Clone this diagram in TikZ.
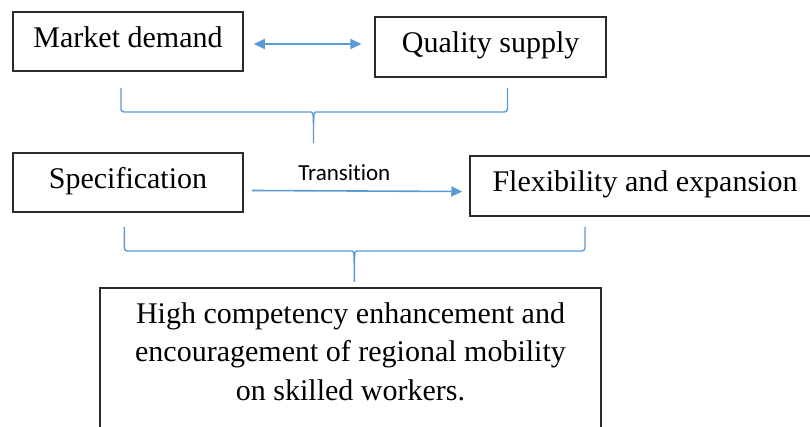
\documentclass[tikz,border=0pt]{standalone}
\usepackage{fontspec}
\setmainfont{Liberation Serif}
\newfontfamily\labelfont[Ligatures=NoCommon]{Carlito}
\usepackage{tikz}
\usetikzlibrary{arrows.meta,calc}
\definecolor{lblue}{HTML}{5B9BD5}
\definecolor{bframe}{HTML}{2B2B2B}

\tikzset{
  box/.style={draw=bframe,line width=1.5pt,align=center,inner sep=0pt,
              font=\fontsize{30}{38.5}\selectfont,
              text height=21pt,text depth=9pt},
  link/.style={draw=lblue,line width=1.6pt},
  tip/.style={-{Triangle[length=11pt,width=10pt]}},
  brace/.style={draw=lblue,line width=1.4pt},
}

\begin{document}
\begin{tikzpicture}[x=1pt,y=-1pt]
      \useasboundingbox (0,0) rectangle (810,427);

      % first row
      \node[box,minimum width=230pt,minimum height=59pt] (md) at (128,41.5) {Market demand};
      \node[box,minimum width=231pt,minimum height=60pt] (qs) at (490.7,47) {Quality supply};

      \draw[link,{Triangle[length=11pt,width=10pt]}-{Triangle[length=11pt,width=10pt]}]
        ($(md.east)+(10,2.5)$) -- ($(qs.west|-md.east)+(-13,2.5)$);

      % first bracket
      \coordinate (b1l) at (121,88);
      \coordinate (b1r) at (507.5,88);
      \coordinate (b1m) at (313.5,112);
      \coordinate (b1t) at (313.5,143);
      \draw[brace] (b1l) [rounded corners=3pt] |- ($(b1m)+(-5,0)$) [sharp corners]
        .. controls ($(b1m)+(-0.5,0)$) .. ($(b1m)+(0,12)$) -- (b1t);
      \draw[brace] (b1r) [rounded corners=3pt] |- ($(b1m)+(5,0)$) [sharp corners]
        .. controls ($(b1m)+(0.5,0)$) .. ($(b1m)+(0,12)$);

      % second row
      \node[box,minimum width=230pt,minimum height=59pt] (sp) at (128,182.5) {Specification};
      \node[box,minimum width=350pt,minimum height=60pt] (fe) at (645,186) {Flexibility and expansion};

      \draw[link,tip] ($(sp.east)+(8,8)$) -- ($(fe.west)+(-7,5.5)$)
        node[pos=0.44,above=6pt,font=\labelfont\fontsize{23}{26}\selectfont,text=black] (tr) {Transition};

      % second bracket
      \coordinate (b2l) at (124.3,227);
      \coordinate (b2r) at (585,227);
      \coordinate (b2m) at (354.3,251);
      \coordinate (b2t) at (354.3,282);
      \draw[brace] (b2l) [rounded corners=3pt] |- ($(b2m)+(-5,0)$) [sharp corners]
        .. controls ($(b2m)+(-0.5,0)$) .. ($(b2m)+(0,12)$) -- (b2t);
      \draw[brace] (b2r) [rounded corners=3pt] |- ($(b2m)+(5,0)$) [sharp corners]
        .. controls ($(b2m)+(0.5,0)$) .. ($(b2m)+(0,12)$);

      % result box
      \node[draw=bframe,line width=1.5pt,minimum width=501pt,minimum height=170pt,
            anchor=north,inner sep=0pt] (hb) at (350.5,287) {};
      \node[align=center,anchor=north,font=\fontsize{30}{38.5}\selectfont] (hbtext)
        at ($(hb.north)+(0,12)$)
        {High competency enhancement and\\
         encouragement of regional mobility\\
         on skilled workers.};

\end{tikzpicture}
\end{document}
